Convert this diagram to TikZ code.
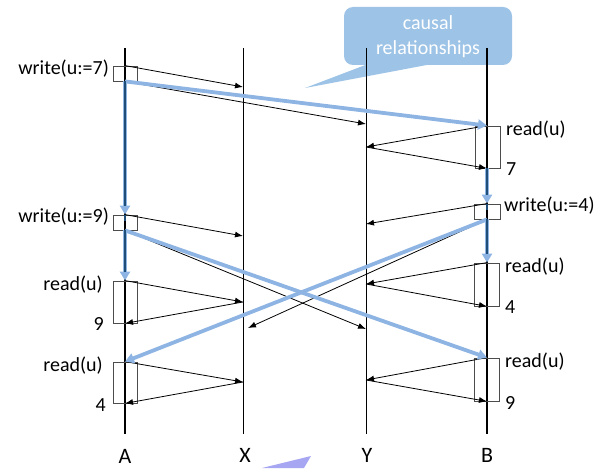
\documentclass[tikz,border=0pt]{standalone}
\usepackage{fontspec}
\setmainfont{Carlito}
\usetikzlibrary{arrows.meta}
\definecolor{lblue}{HTML}{8DB4E2}
\definecolor{dblue}{HTML}{1F4E79}
\definecolor{callfill}{HTML}{9DC3E6}
\definecolor{lav}{HTML}{A6A6F2}
\tikzset{
  proc/.style={line width=2pt,black},
  repl/.style={line width=0.9pt,black},
  msg/.style={line width=0.8pt,black,-{Latex[length=8pt,width=6pt]}},
  causal/.style={line width=3.8pt,lblue,-{Triangle[length=9pt,width=10pt]}},
  causalcore/.style={line width=1.8pt,dblue,shorten >=9pt},
  evbox/.style={draw=black!70,line width=0.8pt,minimum width=24pt,inner sep=0pt},
  lbl/.style={inner sep=0pt,font=\fontsize{20}{24}\selectfont},
  plbl/.style={inner sep=0pt,font=\fontsize{22}{26}\selectfont},
}
\begin{document}
\begin{tikzpicture}[x=1pt,y=-1pt]
\path[use as bounding box] (0,0) rectangle (599,468);
% callout
\fill[callfill,rounded corners=9pt] (344,7) rectangle (512,65);
\fill[callfill] (368,64) -- (305,88) -- (432,64) -- cycle;
\node[lbl,text=white,align=center,font=\fontsize{20}{25}\selectfont] (call) at (428,37) {causal\\relationships};
% lavender fragment at bottom
\fill[lav] (262,468) -- (311,456) -- (304,468) -- cycle;
% process lines
\coordinate (Atop) at (125,48); \coordinate (Abot) at (125,434);
\coordinate (Xtop) at (243,48); \coordinate (Xbot) at (243,434);
\coordinate (Ytop) at (366,48); \coordinate (Ybot) at (366,434);
\coordinate (Btop) at (487,48); \coordinate (Bbot) at (487,434);
\draw[proc] (Atop) -- (Abot);
\draw[repl] (Xtop) -- (Xbot);
\draw[repl] (Ytop) -- (Ybot);
\draw[proc] (Btop) -- (Bbot);
\node[plbl] (lA) at (125,456) {A};
\node[plbl] (lX) at (245,455) {X};
\node[plbl] (lY) at (367,455) {Y};
\node[plbl] (lB) at (487,455) {B};
% boxes
\node[evbox,minimum height=15pt] (w7) at (125,73.5) {};
\node[evbox,minimum height=15pt] (w9) at (125,222.5) {};
\node[evbox,minimum height=42pt] (ra1) at (125,302) {};
\node[evbox,minimum height=41pt] (ra2) at (125,382.5) {};
\node[evbox,minimum height=42pt,minimum width=25pt] (rb1) at (487.5,147) {};
\node[evbox,minimum height=15pt,minimum width=26pt] (w4) at (487,211.5) {};
\node[evbox,minimum height=43pt,minimum width=25pt] (rb2) at (487,284.5) {};
\node[evbox,minimum height=43pt,minimum width=25pt] (rb3) at (487,379.5) {};
% texts
\node[lbl,anchor=east] (tw7) at (109,69) {write(u:=7)};
\node[lbl,anchor=east] (tw9) at (109,217) {write(u:=9)};
\node[lbl,anchor=east] (tra1) at (103,285) {read(u)};
\node[lbl,anchor=east] (tra1v) at (104,324) {9};
\node[lbl,anchor=east] (tra2) at (103,366) {read(u)};
\node[lbl,anchor=east] (tra2v) at (106,405) {4};
\node[lbl,anchor=west] (trb1) at (506,130) {read(u)};
\node[lbl,anchor=west] (trb1v) at (506,169) {7};
\node[lbl,anchor=west] (tw4) at (504,206) {write(u:=4)};
\node[lbl,anchor=west] (trb2) at (505,267) {read(u)};
\node[lbl,anchor=west] (trb2v) at (505,307) {4};
\node[lbl,anchor=west] (trb3) at (505,362) {read(u)};
\node[lbl,anchor=west] (trb3v) at (505,403) {9};
% replica points
\coordinate (x1) at (243,87);
\coordinate (y1) at (366,124);
\coordinate (y2) at (366,147);
\coordinate (x2) at (243,236);
\coordinate (y3) at (366,224);
\coordinate (x3) at (248,328);
\coordinate (y4) at (366,329);
\coordinate (x4) at (243,302);
\coordinate (x5) at (243,382);
\coordinate (y5) at (366,284);
\coordinate (y6) at (366,380);
% black messages
\draw[msg] (w7.north) -- (x1);
\draw[msg] (w7.south) -- (y1);
\draw[msg] (rb1.north -| Btop) -- (y2);
\draw[msg] (y2) -- (rb1.south -| Btop);
\draw[msg] (w4.north -| Btop) -- (y3);
\draw[msg] (w4.south -| Btop) -- (x3);
\draw[msg] (w9.north) -- (x2);
\draw[msg] (w9.south) -- (y4);
\draw[msg] (ra1.north) -- (x4);
\draw[msg] (x4) -- (ra1.south);
\draw[msg] (ra2.north) -- (x5);
\draw[msg] (x5) -- (ra2.south);
\draw[msg] (rb2.north -| Btop) -- (y5);
\draw[msg] (y5) -- (rb2.south -| Btop);
\draw[msg] (rb3.north -| Btop) -- (y6);
\draw[msg] (y6) -- (rb3.south -| Btop);
% causal arrows
\draw[causal] (w7.south) -- (rb1.north -| Btop);
\draw[causal] (w9.south) -- (rb3.north -| Btop);
\draw[causal] (w4.south -| Btop) -- (ra2.north);
\draw[causal] (w7.south) -- (w9.north);
\draw[causal] (w9.south) -- (ra1.north);
\draw[causal] (rb1.south -| Btop) -- (w4.north -| Btop);
\draw[causal] (w4.south -| Btop) -- (rb2.north -| Btop);
\draw[causalcore] (w7.south) -- (w9.north);
\draw[causalcore] (w9.north) -- (w9.south);
\draw[causalcore] (w9.south) -- (ra1.north);
\draw[causalcore] (rb1.south -| Btop) -- (w4.north -| Btop);
\draw[causalcore] (w4.north -| Btop) -- (w4.south -| Btop);
\draw[causalcore] (w4.south -| Btop) -- (rb2.north -| Btop);
\end{tikzpicture}
\end{document}
